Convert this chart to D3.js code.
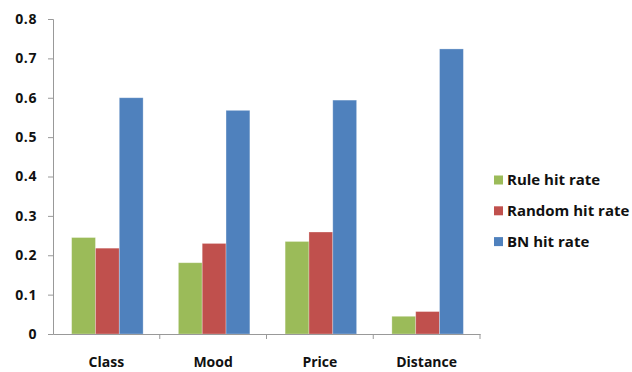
<!DOCTYPE html>
<html>
<head>
<meta charset="utf-8">
<script src="https://cdn.jsdelivr.net/npm/d3@7"></script>
<style>
  html, body { margin: 0; padding: 0; background: #fff; }
  svg { display: block; }
  text { font-family: "Open Sans", "DejaVu Sans", sans-serif; font-weight: bold; fill: #111; }
</style>
</head>
<body>
<svg id="chart" width="632" height="372"></svg>
<script>
// Hit-rate comparison across four attributes
const categories = ["Class", "Mood", "Price", "Distance"];
const seriesNames = ["Rule hit rate", "Random hit rate", "BN hit rate"];
const ruleHit = [0.245, 0.181, 0.235, 0.045];
const randomHit = [0.218, 0.230, 0.259, 0.057];
const bnHit = [0.600, 0.568, 0.594, 0.724];
const yTicks = [0, 0.1, 0.2, 0.3, 0.4, 0.5, 0.6, 0.7, 0.8];
const colors = ["#9BBB59", "#C0504D", "#4F81BD"];

const seriesValues = [ruleHit, randomHit, bnHit];
const svg = d3.select("#chart");

const plot = { left: 53, right: 480, top: 19, bottom: 334 };

const x = d3.scaleBand().domain(categories).range([plot.left, plot.right]).paddingInner(0).paddingOuter(0);
const xInner = d3.scaleBand().domain(seriesNames).range([0, x.bandwidth()]).paddingInner(0).paddingOuter(0.74);
const y = d3.scaleLinear().domain([0, 0.8]).range([plot.bottom, plot.top]);

// Bars
const groups = svg.append("g").selectAll("g")
  .data(categories)
  .join("g")
  .attr("transform", d => `translate(${x(d) + 1},0)`);

groups.selectAll("rect")
  .data((c, i) => seriesNames.map((s, j) => ({ s, j, v: seriesValues[j][i] })))
  .join("rect")
  .attr("x", d => xInner(d.s))
  .attr("width", xInner.bandwidth())
  .attr("y", d => y(d.v))
  .attr("height", d => y(0) - y(d.v))
  .attr("fill", d => colors[d.j])
  .attr("stroke", "rgba(255,255,255,0.35)")
  .attr("stroke-width", 0.8);

// Y axis
const yAxis = svg.append("g")
  .attr("transform", `translate(${plot.left},0)`)
  .call(d3.axisLeft(y).tickValues(yTicks).tickFormat(d => d === 0 ? "0" : d3.format(".1f")(d)).tickSize(5).tickPadding(11));
yAxis.select(".domain").attr("stroke", "#999");
yAxis.selectAll(".tick line").attr("stroke", "#999");
yAxis.selectAll(".tick text").style("font-size", "14px").style("letter-spacing", "0.6px").attr("fill", "#111");

// X axis
const xAxis = svg.append("g")
  .attr("transform", `translate(0,${plot.bottom})`)
  .call(d3.axisBottom(x).tickSize(0).tickPadding(23));
xAxis.select(".domain").attr("stroke", "#999");
xAxis.selectAll(".tick text").style("font-size", "14px").attr("fill", "#111");
// Category separator ticks
xAxis.selectAll("line.sep")
  .data(categories.slice(1).concat(["end"]))
  .join("line")
  .attr("class", "sep")
  .attr("x1", (d, i) => i < categories.length - 1 ? x(d) : plot.right)
  .attr("x2", (d, i) => i < categories.length - 1 ? x(d) : plot.right)
  .attr("y1", 0)
  .attr("y2", 5)
  .attr("stroke", "#999");

// Legend
const legend = svg.append("g").attr("transform", "translate(494,180)");
const items = legend.selectAll("g")
  .data(seriesNames)
  .join("g")
  .attr("transform", (d, i) => `translate(0,${i * 30.8})`);
items.append("rect")
  .attr("x", 0).attr("y", -4.5)
  .attr("width", 9).attr("height", 9)
  .attr("fill", (d, i) => colors[i]);
items.append("text")
  .attr("x", 13).attr("y", 0)
  .attr("dy", "0.35em")
  .style("font-size", "15px")
  .text(d => d);
</script>
</body>
</html>
